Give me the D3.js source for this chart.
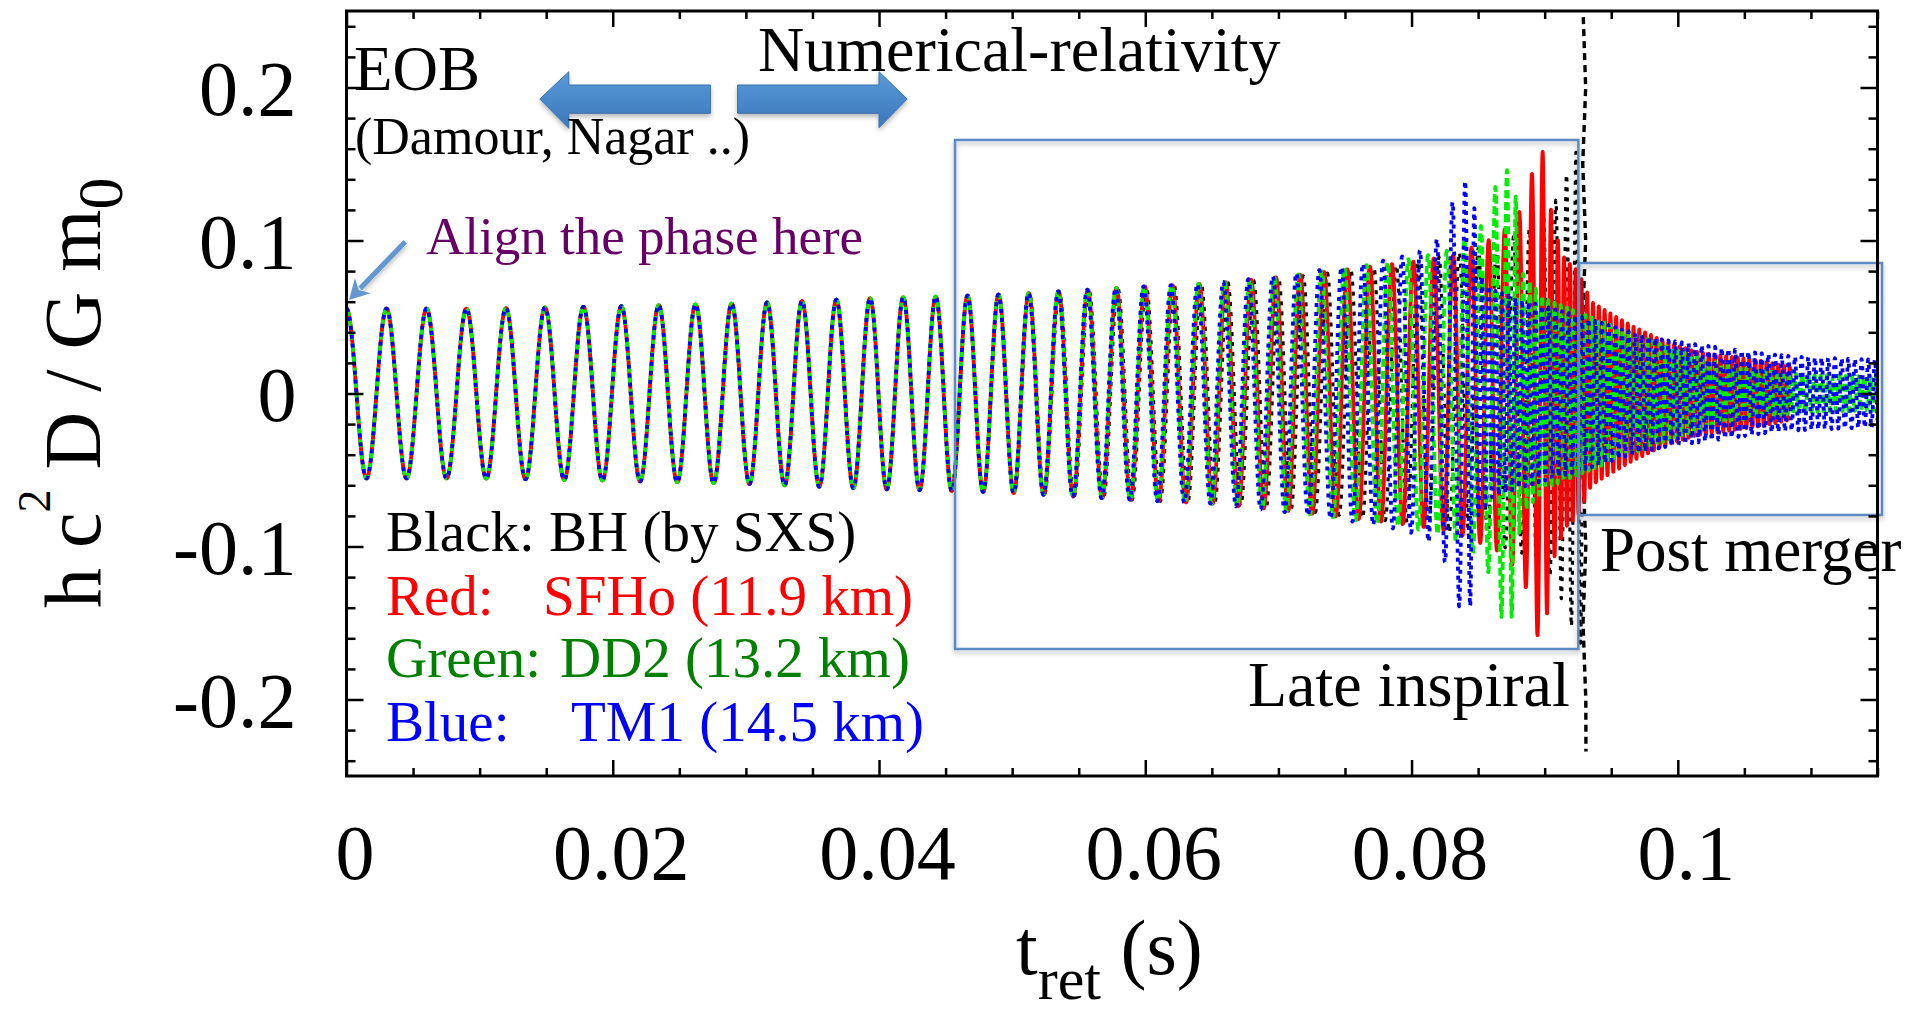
<!DOCTYPE html>
<html>
<head>
<meta charset="utf-8">
<script src="https://cdn.jsdelivr.net/npm/d3@7"></script>
<style>
  body { margin: 0; background: #fff; }
  svg { display: block; }
  text { font-family: "Liberation Serif", "Times New Roman", Times, serif; }
</style>
</head>
<body>
<svg id="chart" width="1928" height="1014"></svg>
<script>
// ---- axis ticks ----
const xMajorTicks = [0, 0.02, 0.04, 0.06, 0.08, 0.1];
const xTickLabels = ["0", "0.02", "0.04", "0.06", "0.08", "0.1"];
const yMajorTicks = [-0.2, -0.1, 0, 0.1, 0.2];
const yTickLabels = ["-0.2", "-0.1", "0", "0.1", "0.2"];

// ---- inspiral shared by all four models (phase aligned at t = 0) ----
// gravitational-wave frequency [t (s), f (Hz)]
const inspiralFreq = [[0, 333], [0.005, 332], [0.01, 336], [0.015, 344], [0.02, 352],
  [0.025, 362], [0.03, 375], [0.035, 386], [0.04, 400], [0.045, 416]];
// amplitude envelope [t (s), h c^2 D / G m0]
const inspiralAmp = [[0, 0.0555], [0.01, 0.0555], [0.02, 0.057], [0.03, 0.059],
  [0.04, 0.0625], [0.045, 0.0635]];

// ---- late inspiral / merger / post-merger, per model ----
const freqBH = [[0.05, 436], [0.055, 452], [0.06, 472], [0.065, 500], [0.07, 537], [0.075, 566],
  [0.08, 615], [0.083, 660], [0.086, 740], [0.088, 820], [0.09, 1000], [0.091, 1200],
  [0.092, 1400], [0.0928, 1550]];
const ampBH = [[0.05, 0.065], [0.06, 0.070], [0.065, 0.072], [0.07, 0.075], [0.075, 0.080],
  [0.08, 0.085], [0.085, 0.095], [0.0885, 0.105], [0.0905, 0.12], [0.0913, 0.135],
  [0.092, 0.152], [0.0928, 0.165]];

const freqSFHo = [[0.05, 440], [0.055, 456], [0.06, 476], [0.065, 506], [0.07, 545], [0.075, 576],
  [0.08, 630], [0.083, 700], [0.086, 800], [0.088, 950], [0.0896, 1250], [0.0905, 1800],
  [0.0915, 2300], [0.1085, 2300]];
const ampSFHo = [[0.05, 0.065], [0.06, 0.070], [0.065, 0.072], [0.07, 0.076], [0.075, 0.081],
  [0.08, 0.086], [0.083, 0.090], [0.085, 0.097], [0.0865, 0.103], [0.0878, 0.114],
  [0.0888, 0.13], [0.0893, 0.158], [0.09, 0.158], [0.0906, 0.11], [0.0915, 0.088],
  [0.0925, 0.08], [0.0935, 0.06], [0.095, 0.052], [0.0966, 0.044], [0.099, 0.034],
  [0.1015, 0.027], [0.104, 0.024], [0.1065, 0.021], [0.1085, 0.017]];

const freqDD2 = [[0.05, 441], [0.055, 458], [0.06, 479], [0.065, 510], [0.07, 552], [0.075, 592],
  [0.08, 660], [0.083, 740], [0.085, 830], [0.0863, 1000], [0.0871, 1250], [0.088, 1800],
  [0.089, 2150], [0.115, 2150]];
const ampDD2 = [[0.05, 0.065], [0.06, 0.070], [0.065, 0.072], [0.07, 0.076], [0.075, 0.082],
  [0.08, 0.088], [0.083, 0.094], [0.0851, 0.108], [0.086, 0.12], [0.0865, 0.146],
  [0.0877, 0.146], [0.0882, 0.08], [0.09, 0.062], [0.092, 0.055], [0.094, 0.048],
  [0.097, 0.038], [0.1, 0.028], [0.103, 0.02], [0.106, 0.015], [0.11, 0.012], [0.115, 0.011]];

const freqTM1 = [[0.05, 442], [0.055, 460], [0.06, 482], [0.065, 515], [0.07, 558], [0.075, 610],
  [0.078, 680], [0.08, 750], [0.082, 810], [0.083, 900], [0.0838, 1100], [0.0845, 1500],
  [0.0855, 2000], [0.115, 2000]];
const ampTM1 = [[0.05, 0.065], [0.06, 0.070], [0.065, 0.072], [0.07, 0.077], [0.075, 0.083],
  [0.078, 0.087], [0.08, 0.091], [0.081, 0.095], [0.0822, 0.103], [0.083, 0.122],
  [0.0834, 0.139], [0.0846, 0.139], [0.085, 0.08], [0.086, 0.068], [0.088, 0.062],
  [0.09, 0.057], [0.092, 0.052], [0.094, 0.047], [0.0965, 0.04], [0.099, 0.035],
  [0.1015, 0.032], [0.104, 0.029], [0.1065, 0.026], [0.109, 0.024], [0.112, 0.023],
  [0.115, 0.022]];

// end of each record (s)
const endTimes = { BH: 0.0928, SFHo: 0.1085, DD2: 0.115, TM1: 0.115 };
// black-hole record at merger: steep excursion [t, h]
const bhMergerTrace = [[0.0929, 0.246], [0.09308, 0.2], [0.09286, 0.15], [0.09308, 0.1],
  [0.09286, 0.05], [0.09308, 0.0], [0.09287, -0.05], [0.09309, -0.1], [0.09288, -0.15],
  [0.09309, -0.2], [0.0931, -0.234]];

// annotation boxes in data units [t0, t1, h0, h1]
const lateInspiralBox = [0.04571, 0.09253, -0.167, 0.1657];
const postMergerBox = [0.09258, 0.11534, -0.0794, 0.0853];

// ---- layout ----
const plot = { left: 346.5, right: 1877.5, top: 11, bottom: 776 };
const x = d3.scaleLinear().domain([0, 0.115]).range([plot.left, plot.right]);
const y = d3.scaleLinear().domain([-0.25, 0.25]).range([plot.bottom, plot.top]);

const svg = d3.select("#chart");
const defs = svg.append("defs");

defs.append("clipPath").attr("id", "plot-clip")
  .append("rect")
  .attr("x", plot.left).attr("y", plot.top)
  .attr("width", plot.right - plot.left).attr("height", plot.bottom - plot.top);

const shadow = defs.append("filter").attr("id", "soft-shadow")
  .attr("x", "-10%").attr("y", "-10%").attr("width", "120%").attr("height", "125%");
shadow.append("feDropShadow").attr("dx", 0).attr("dy", 3).attr("stdDeviation", 2.5)
  .attr("flood-color", "#000").attr("flood-opacity", 0.28);

const grad = defs.append("linearGradient").attr("id", "arrow-fill")
  .attr("x1", 0).attr("y1", 0).attr("x2", 0).attr("y2", 1);
grad.append("stop").attr("offset", "0%").attr("stop-color", "#5a9ad8");
grad.append("stop").attr("offset", "100%").attr("stop-color", "#3b77bb");

// ---- waveform synthesis from frequency and envelope tracks ----
function waveform(freqKnots, ampKnots, tEnd) {
  const f = d3.scaleLinear().domain(freqKnots.map(d => d[0])).range(freqKnots.map(d => d[1])).clamp(true);
  const a = d3.scaleLinear().domain(ampKnots.map(d => d[0])).range(ampKnots.map(d => d[1])).clamp(true);
  const dt = 1e-5;
  const n = Math.round(tEnd / dt);
  const pts = [];
  let phase = 0;
  for (let i = 0; i <= n; i++) {
    const t = i * dt;
    pts.push([t, a(t) * Math.cos(phase)]);
    phase += 2 * Math.PI * f(t + dt / 2) * dt;
  }
  return pts;
}

const series = [
  { key: "BH", color: "#000000", dash: "4,6", width: 3.2, freq: freqBH, amp: ampBH },
  { key: "SFHo", color: "#ff0000", dash: null, width: 3.8, freq: freqSFHo, amp: ampSFHo },
  { key: "DD2", color: "#00ee00", dash: "8,4", width: 3.8, freq: freqDD2, amp: ampDD2 },
  { key: "TM1", color: "#0000ff", dash: "4,5", width: 3.8, freq: freqTM1, amp: ampTM1 }
];

const line = d3.line().x(d => x(d[0])).y(d => y(d[1]));

const curves = svg.append("g").attr("clip-path", "url(#plot-clip)");
series.forEach(s => {
  const pts = waveform(inspiralFreq.concat(s.freq), inspiralAmp.concat(s.amp), endTimes[s.key]);
  curves.append("path")
    .datum(pts)
    .attr("d", line)
    .attr("fill", "none")
    .attr("stroke", s.color)
    .attr("stroke-width", s.width)
    .attr("stroke-dasharray", s.dash)
    .attr("stroke-linejoin", "round");
  if (s.key === "BH") {
    curves.append("path")
      .datum(bhMergerTrace)
      .attr("d", line)
      .attr("fill", "none")
      .attr("stroke", "#000")
      .attr("stroke-width", 3.4)
      .attr("stroke-dasharray", "7,5");
  }
});

// ---- annotation boxes ----
function drawBox(b) {
  svg.append("rect")
    .attr("x", x(b[0])).attr("y", y(b[3]))
    .attr("width", x(b[1]) - x(b[0])).attr("height", y(b[2]) - y(b[3]))
    .attr("fill", "none")
    .attr("stroke", "#5b8ac4")
    .attr("stroke-width", 2.5)
    .attr("filter", "url(#soft-shadow)");
}
drawBox(lateInspiralBox);
drawBox(postMergerBox);

// ---- frame and ticks (all pointing inward) ----
const xMinor = d3.range(0, 0.1151, 0.005).filter(v => Math.abs(v / 0.02 - Math.round(v / 0.02)) > 1e-6);
const yMinor = d3.range(-0.24, 0.2401, 0.02).filter(v => Math.abs(v / 0.1 - Math.round(v / 0.1)) > 1e-6);

function tickGroup(axisGen, transform) {
  const g = svg.append("g").attr("transform", transform).call(axisGen);
  g.select(".domain").remove();
  g.selectAll(".tick line").attr("stroke", "#000").attr("stroke-width", 2.5);
  return g;
}
const noLabel = () => "";
// bottom
const bottomMajor = tickGroup(d3.axisBottom(x).tickValues(xMajorTicks).tickSize(-16).tickPadding(48)
  .tickFormat((d, i) => xTickLabels[i]), `translate(0,${plot.bottom})`);
bottomMajor.selectAll(".tick text")
  .attr("font-family", "Liberation Serif, Times New Roman, serif")
  .attr("font-size", 78).attr("fill", "#000").attr("dx", 8);
tickGroup(d3.axisBottom(x).tickValues(xMinor).tickSize(-8).tickFormat(noLabel), `translate(0,${plot.bottom})`);
// top
tickGroup(d3.axisTop(x).tickValues(xMajorTicks).tickSize(-16).tickFormat(noLabel), `translate(0,${plot.top})`);
tickGroup(d3.axisTop(x).tickValues(xMinor).tickSize(-8).tickFormat(noLabel), `translate(0,${plot.top})`);
// left
const leftMajor = tickGroup(d3.axisLeft(y).tickValues(yMajorTicks).tickSize(-17).tickPadding(50)
  .tickFormat((d, i) => yTickLabels[i]), `translate(${plot.left},0)`);
leftMajor.selectAll(".tick text")
  .attr("font-family", "Liberation Serif, Times New Roman, serif")
  .attr("font-size", 78).attr("fill", "#000").attr("dy", "0.34em");
tickGroup(d3.axisLeft(y).tickValues(yMinor).tickSize(-9).tickFormat(noLabel), `translate(${plot.left},0)`);
// right
tickGroup(d3.axisRight(y).tickValues(yMajorTicks).tickSize(-17).tickFormat(noLabel), `translate(${plot.right},0)`);
tickGroup(d3.axisRight(y).tickValues(yMinor).tickSize(-9).tickFormat(noLabel), `translate(${plot.right},0)`);

svg.append("rect")
  .attr("x", plot.left).attr("y", plot.top)
  .attr("width", plot.right - plot.left).attr("height", plot.bottom - plot.top)
  .attr("fill", "none").attr("stroke", "#000").attr("stroke-width", 3);

// ---- axis titles ----
const yTitle = svg.append("text")
  .attr("transform", "translate(100,608) rotate(-90)")
  .attr("font-size", 80).attr("fill", "#000");
yTitle.append("tspan").text("h c");
yTitle.append("tspan").attr("font-size", 46).attr("dy", -50).text("2");
yTitle.append("tspan").attr("dy", 50).text(" D / G m");
yTitle.append("tspan").attr("font-size", 64).attr("dy", 22).text("0");

const xTitle = svg.append("text").attr("x", 1016).attr("y", 974).attr("font-size", 78).attr("fill", "#000");
xTitle.append("tspan").text("t");
xTitle.append("tspan").attr("font-size", 60).attr("dy", 25).text("ret");
xTitle.append("tspan").attr("dy", -25).text(" (s)");

// ---- block arrows (EOB <-> numerical relativity) ----
svg.append("path")
  .attr("d", "M539.8,99 L568.8,71.7 L568.8,85 L710.4,85 L710.4,113.3 L568.8,113.3 L568.8,128.3 Z")
  .attr("fill", "url(#arrow-fill)").attr("stroke", "#3a70ad").attr("stroke-width", 1)
  .attr("filter", "url(#soft-shadow)");
svg.append("path")
  .attr("d", "M737.6,85 L879,85 L879,71.7 L907.2,99 L879,127.7 L879,113.3 L737.6,113.3 Z")
  .attr("fill", "url(#arrow-fill)").attr("stroke", "#3a70ad").attr("stroke-width", 1)
  .attr("filter", "url(#soft-shadow)");

// ---- "align the phase" pointer ----
(function () {
  const x0 = 405.3, y0 = 241.7, x1 = 349, y1 = 300;
  const len = Math.hypot(x1 - x0, y1 - y0);
  const ux = (x1 - x0) / len, uy = (y1 - y0) / len;
  const hl = 20, hw = 11;
  const bx = x1 - ux * hl, by = y1 - uy * hl;
  svg.append("line")
    .attr("x1", x0).attr("y1", y0).attr("x2", bx + ux * 4).attr("y2", by + uy * 4)
    .attr("stroke", "#6497d0").attr("stroke-width", 5).attr("filter", "url(#soft-shadow)");
  svg.append("path")
    .attr("d", `M${x1},${y1} L${bx - uy * hw},${by + ux * hw} L${bx + ux * 6},${by + uy * 6} L${bx + uy * hw},${by - ux * hw} Z`)
    .attr("fill", "#6497d0");
})();

// ---- text annotations ----
function label(txt, px, py, size, color) {
  return svg.append("text").attr("x", px).attr("y", py)
    .attr("font-size", size).attr("fill", color).attr("xml:space", "preserve").text(txt);
}
label("EOB", 354, 90, 63, "#000");
label("(Damour, Nagar ..)", 355, 154, 52, "#000");
label("Numerical-relativity", 758, 71, 64, "#000");
label("Align the phase here", 426, 254, 53, "#660066");
label("Late inspiral", 1248, 706, 64, "#000");
label("Post merger", 1600, 571, 63, "#000");

label("Black: BH (by SXS)", 386, 551, 57, "#000");
label("Red:", 386, 615, 57, "#ff0000");
label("SFHo (11.9 km)", 543, 615, 57, "#ff0000");
label("Green:", 386, 677, 57, "#008000");
label("DD2 (13.2 km)", 560, 677, 57, "#008000");
label("Blue:", 386, 741, 57, "#0000ff");
label("TM1 (14.5 km)", 571, 741, 57, "#0000ff");
</script>
</body>
</html>
